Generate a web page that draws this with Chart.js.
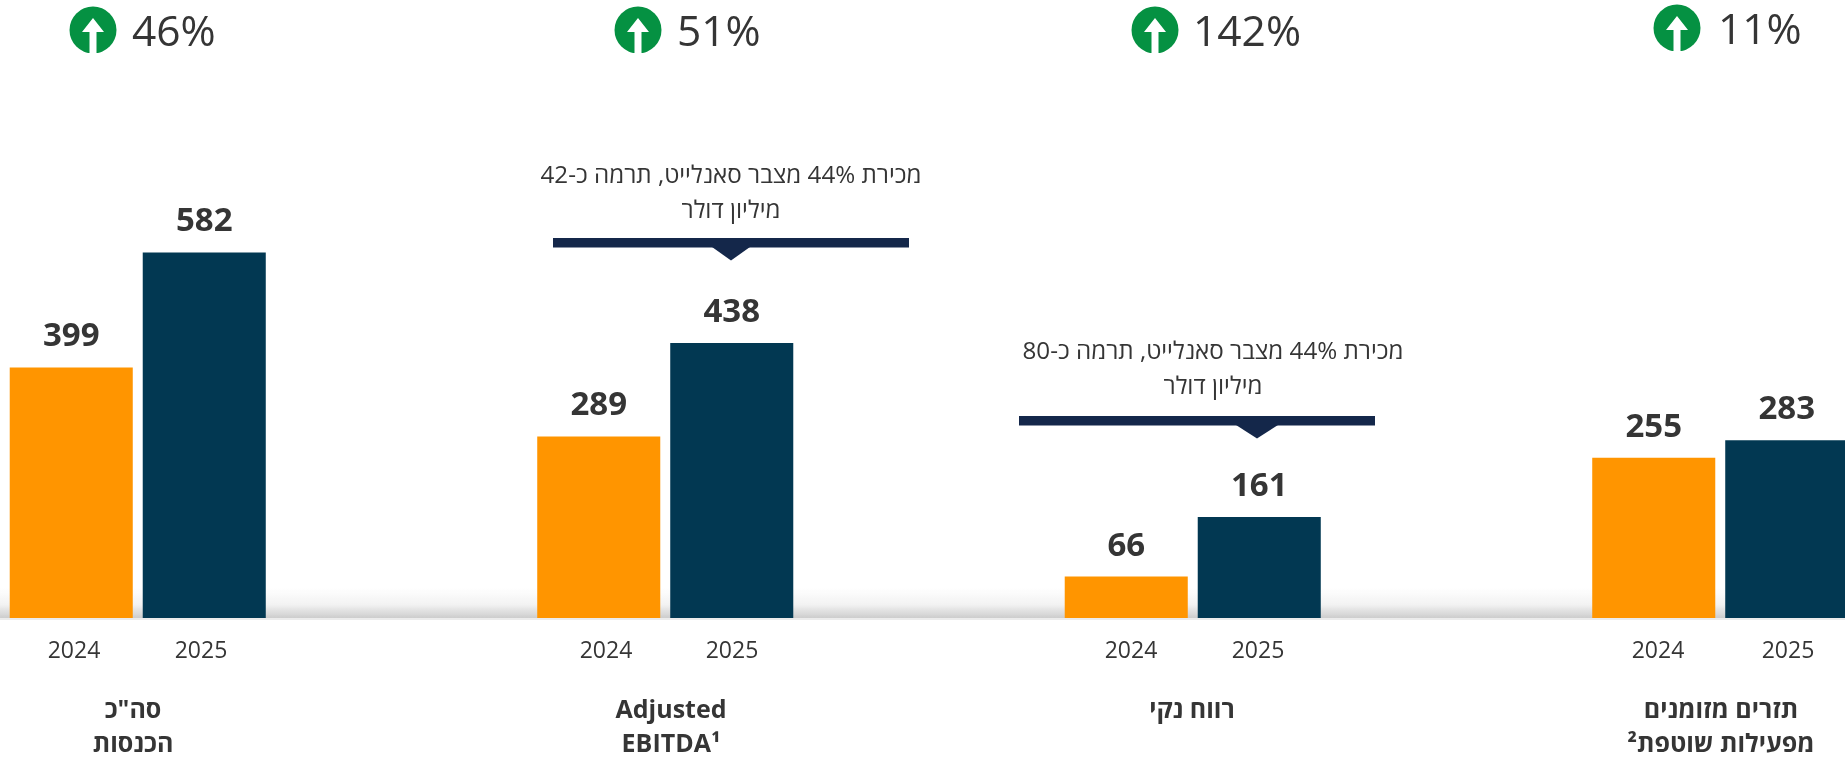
<!DOCTYPE html>
<html lang="he"><head><meta charset="utf-8">
<script src="https://cdn.jsdelivr.net/npm/chart.js@4"></script>
<style>
html,body{margin:0;padding:0;background:#fff;overflow:hidden;width:1845px;height:757px}
#wrap{position:absolute;left:-126px;top:0;width:2110px;height:757px}
</style></head><body>
<div id="wrap"><canvas id="c" width="2110" height="757"></canvas></div>
<script>
// ---- data ----
const metrics = ['סה"כ הכנסות', 'Adjusted EBITDA', 'רווח נקי', 'תזרים מזומנים מפעילות שוטפת'];
const values2024 = [399, 289, 66, 255];
const values2025 = [582, 438, 161, 283];
const changes = ['46%', '51%', '142%', '11%'];
const seriesNames = ['2024', '2025'];
const titleLines = [['סה"כ', 'הכנסות'], ['Adjusted', 'EBITDA¹'], ['רווח נקי'], ['תזרים מזומנים', 'מפעילות שוטפת²']];
const noteLines = [null, ['מכירת 44% מצבר סאנלייט, תרמה כ-42', 'מיליון דולר'], ['מכירת 44% מצבר סאנלייט, תרמה כ-80', 'מיליון דולר'], null];

// ---- layout (page pixels) ----
const OX = 126;
const FONT = '"Open Sans", "Noto Sans", sans-serif';
const INK = '#353535';
const iconX = [93, 638, 1155, 1677];
const changeX = [132, 677, 1193, 1718];
const changeDY = [0, 0, 0, -2];
const yearX = [[74, 201], [606, 732], [1131, 1258], [1658, 1788]];
const titleX = [133, 671, 1192, 1721];
const noteBox = [null,
  {l: 553, r: 909, top: 238, tip: 731, half: 19, textX: 731, text: [183, 218]},
  {l: 1019, r: 1375, top: 416, tip: 1257, half: 21, textX: 1213, text: [359, 394]},
  null];

const overlay = {
  id: 'overlay',
  beforeDatasetsDraw(chart) {
    const c = chart.ctx, base = chart.scales.y.getPixelForValue(0);
    c.save();
    const g = c.createLinearGradient(0, base - 30, 0, base);
    g.addColorStop(0, 'rgba(205,205,205,0)');
    g.addColorStop(0.55, 'rgba(205,205,205,0.25)');
    g.addColorStop(1, 'rgba(205,205,205,1)');
    c.fillStyle = g;
    c.fillRect(0, base - 30, chart.width, 30);
    c.fillStyle = '#ececec';
    c.fillRect(0, base, chart.width, 2);
    c.restore();
  },
  afterDatasetsDraw(chart) {
    const c = chart.ctx;
    c.save();
    c.textBaseline = 'alphabetic';
    c.textAlign = 'center';
    c.direction = 'rtl';
    // value labels above the bars
    c.fillStyle = INK;
    c.font = '700 33px ' + FONT;
    chart.data.datasets.forEach((ds, d) => {
      chart.getDatasetMeta(d).data.forEach((bar, i) => {
        c.fillText(String(ds.data[i]), bar.x, bar.y - 21);
      });
    });
    // year labels
    c.font = '400 23px ' + FONT;
    yearX.forEach(p => p.forEach((x, k) => c.fillText(seriesNames[k], x + OX, 658)));
    // group titles
    c.font = '700 25px ' + FONT;
    titleLines.forEach((lines, i) => lines.forEach((t, k) => c.fillText(t, titleX[i] + OX, 718 + k * 34)));
    // change indicators
    changes.forEach((t, i) => {
      const x = iconX[i] + OX, dy = changeDY[i], y = 30 + dy;
      c.save();
      c.beginPath(); c.rect(x - 26, 0, 52, 53 + dy); c.clip();
      c.beginPath(); c.arc(x, y, 23.5, 0, Math.PI * 2);
      c.fillStyle = '#059142'; c.fill();
      c.fillStyle = '#fff';
      c.beginPath();
      c.moveTo(x, 18 + dy); c.lineTo(x + 11, 32 + dy); c.lineTo(x + 3.5, 32 + dy); c.lineTo(x + 3.5, 56 + dy);
      c.lineTo(x - 3.5, 56 + dy); c.lineTo(x - 3.5, 32 + dy); c.lineTo(x - 11, 32 + dy); c.closePath();
      c.fill();
      c.restore();
      c.fillStyle = INK;
      c.textAlign = 'left';
      c.direction = 'ltr';
      c.font = '400 42.5px ' + FONT;
      c.fillText(t, changeX[i] + OX, 46 + dy);
      c.textAlign = 'center';
      c.direction = 'rtl';
    });
    // callouts
    noteBox.forEach((b, i) => {
      if (!b) return;
      c.font = '400 24.2px ' + FONT;
      c.fillStyle = INK;
      noteLines[i].forEach((t, k) => c.fillText(t, b.textX + OX, b.text[k]));
      c.fillStyle = '#14274a';
      c.fillRect(b.l + OX, b.top, b.r - b.l, 9.5);
      const m = b.tip + OX;
      c.beginPath();
      c.moveTo(m - b.half, b.top + 9); c.lineTo(m + b.half, b.top + 9); c.lineTo(m, b.top + 22.5); c.closePath();
      c.fill();
    });
    c.restore();
  }
};

new Chart(document.getElementById('c'), {
  type: 'bar',
  data: {
    labels: metrics,
    datasets: [
      {label: seriesNames[0], data: values2024, backgroundColor: '#ff9500', categoryPercentage: 0.5043, barPercentage: 0.925},
      {label: seriesNames[1], data: values2025, backgroundColor: '#023852', categoryPercentage: 0.5043, barPercentage: 0.925}
    ]
  },
  options: {
    responsive: false,
    animation: false,
    layout: {padding: {left: 0, right: 0, top: 0, bottom: 139}},
    plugins: {legend: {display: false}, title: {display: false}, tooltip: {enabled: false}},
    scales: {
      x: {display: false, grid: {display: false}},
      y: {display: false, min: 0, max: 984, grid: {display: false}}
    }
  },
  plugins: [overlay]
});
</script></body></html>
